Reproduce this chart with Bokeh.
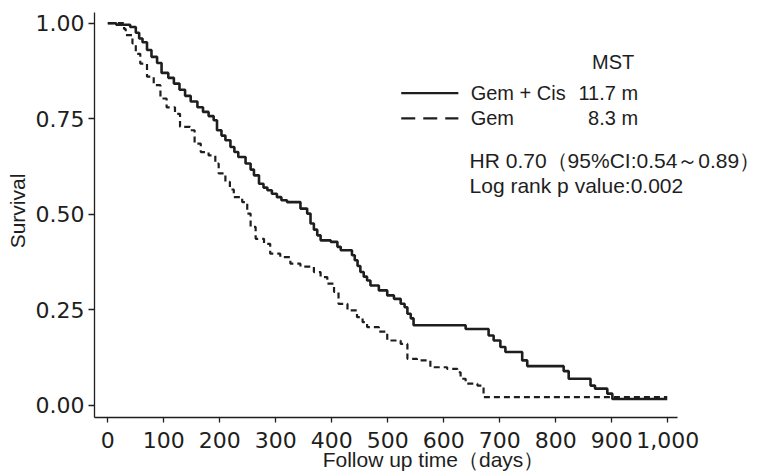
from bokeh.plotting import figure
from bokeh.models import Range1d, FixedTicker, NumeralTickFormatter, Label
from bokeh.embed import file_html
from bokeh.resources import INLINE

# Kaplan-Meier estimates
gemcis_days = [0, 15, 40, 50, 56, 62, 70, 78, 88, 96, 108, 118, 128, 138, 148, 160, 170, 180, 189,
               195, 203, 210, 219, 226, 233, 246, 255, 261, 270, 278, 285, 293, 302, 310, 320, 344,
               356, 362, 368, 374, 380, 398, 410, 416, 436, 441, 446, 451, 457, 463, 469, 484, 499,
               511, 523, 530, 535, 541, 546, 639, 680, 689, 701, 710, 740, 749, 814, 823, 862, 870,
               892, 901, 999]
gemcis_surv = [1.000, 0.996, 0.990, 0.975, 0.960, 0.950, 0.930, 0.912, 0.896, 0.870, 0.857, 0.842,
               0.826, 0.810, 0.795, 0.780, 0.768, 0.757, 0.746, 0.720, 0.706, 0.694, 0.676, 0.663,
               0.650, 0.633, 0.617, 0.602, 0.580, 0.570, 0.563, 0.554, 0.545, 0.537, 0.532, 0.515,
               0.502, 0.476, 0.460, 0.445, 0.432, 0.428, 0.415, 0.406, 0.393, 0.380, 0.365, 0.349,
               0.337, 0.327, 0.314, 0.301, 0.288, 0.279, 0.266, 0.257, 0.240, 0.228, 0.210, 0.200,
               0.183, 0.170, 0.153, 0.140, 0.118, 0.103, 0.090, 0.070, 0.052, 0.044, 0.031, 0.017,
               0.017]

gem_days = [0, 29, 32, 44, 50, 58, 70, 82, 94, 105, 120, 129, 147, 155, 166, 180, 192, 198, 210,
            218, 225, 240, 249, 255, 264, 279, 290, 308, 326, 344, 368, 380, 392, 404, 412, 428,
            445, 455, 463, 484, 499, 523, 535, 552, 576, 606, 624, 630, 639, 660, 671, 999]
gem_surv = [1.000, 0.985, 0.969, 0.947, 0.920, 0.894, 0.860, 0.838, 0.803, 0.780, 0.763, 0.729,
            0.720, 0.685, 0.663, 0.654, 0.633, 0.607, 0.585, 0.565, 0.545, 0.532, 0.502, 0.467,
            0.436, 0.423, 0.397, 0.388, 0.371, 0.363, 0.349, 0.336, 0.319, 0.297, 0.266, 0.249,
            0.231, 0.218, 0.205, 0.193, 0.170, 0.161, 0.122, 0.118, 0.100, 0.096, 0.087, 0.070,
            0.057, 0.052, 0.022, 0.022]

x_ticks = [0, 100, 200, 300, 400, 500, 600, 700, 800, 900, 1000]
y_ticks = [0.0, 0.25, 0.5, 0.75, 1.0]

FONT = "Liberation Sans"
TICK_FONT = "DejaVu Sans"
INK = "#1e1e1e"

X_LO, X_AXIS_END, X_HI = -23.75, 1017, 1186.96
Y_LO, Y_AXIS_END, Y_HI = -0.0314, 1.029, 1.0489

p = figure(width=772, height=474, output_backend="svg", toolbar_location=None,
           x_range=Range1d(X_LO, X_HI), y_range=Range1d(Y_LO, Y_HI),
           min_border_left=94, min_border_right=0, min_border_top=4, min_border_bottom=57)
p.outline_line_color = None
p.xgrid.visible = False
p.ygrid.visible = False
p.background_fill_color = "white"

p.step(gemcis_days, gemcis_surv, mode="after", line_color=INK, line_width=2.6)
p.step(gem_days, gem_surv, mode="after", line_color=INK, line_width=2.2, line_dash="6 4")

for ax in (p.xaxis[0], p.yaxis[0]):
    ax.axis_line_color = INK
    ax.axis_line_width = 1.3
    ax.major_tick_line_color = INK
    ax.major_tick_line_width = 1.3
    ax.major_tick_in = 0
    ax.minor_tick_line_color = None
    ax.major_label_text_font = TICK_FONT
    ax.major_label_text_font_size = "22px"
    ax.major_label_text_color = INK
    ax.axis_label_text_font = FONT
    ax.axis_label_text_font_size = "21px"
    ax.axis_label_text_font_style = "normal"
    ax.axis_label_text_color = INK

p.xaxis.bounds = (X_LO, X_AXIS_END)
p.xaxis.ticker = FixedTicker(ticks=x_ticks)
p.xaxis.formatter = NumeralTickFormatter(format="0,0")
p.xaxis.axis_label = "Follow up time（days）"
p.xaxis.major_tick_out = 5
p.xaxis.major_label_standoff = 9
p.xaxis.axis_label_standoff = -3

p.yaxis.bounds = (Y_LO, Y_AXIS_END)
p.yaxis.ticker = FixedTicker(ticks=y_ticks)
p.yaxis.formatter = NumeralTickFormatter(format="0.00")
p.yaxis.axis_label = "Survival"
p.yaxis.major_tick_out = 6
p.yaxis.major_label_standoff = 4
p.yaxis.axis_label_standoff = 4

# legend / annotations
p.segment(x0=[524], y0=[0.817], x1=[626], y1=[0.817], line_color=INK, line_width=2.2)
p.segment(x0=[524], y0=[0.751], x1=[626], y1=[0.751], line_color=INK, line_width=2.2,
          line_dash="14 8")

def lab(x, y, t, size, align="left"):
    p.add_layout(Label(x=x, y=y, text=t, text_font=FONT, text_font_size=size,
                       text_color=INK, text_align=align, text_baseline="middle"))

lab(940, 0.898, "MST", "20px", "right")
lab(648, 0.817, "Gem + Cis", "20px")
lab(947, 0.817, "11.7 m", "20px", "right")
lab(648, 0.751, "Gem", "20px")
lab(947, 0.751, "8.3 m", "20px", "right")
lab(646, 0.641, "HR 0.70（95%CI:0.54～0.89）", "21px")
lab(646, 0.576, "Log rank p value:0.002", "21px")

open("out.html", "w").write(file_html(p, INLINE))
